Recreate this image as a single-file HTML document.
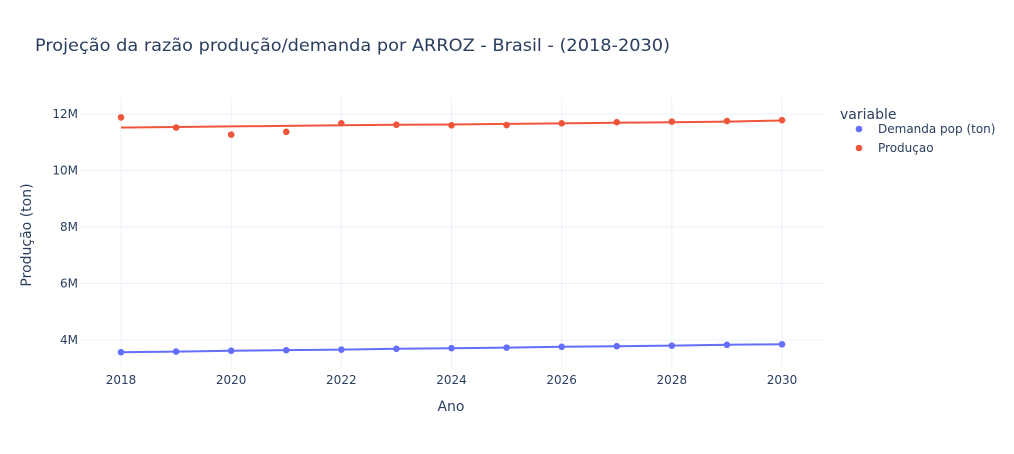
<!DOCTYPE html>
<html><head><meta charset="utf-8"><style>
body{margin:0;background:#fff;font-family:"DejaVu Sans",sans-serif}
svg text{font-family:"DejaVu Sans","Liberation Sans",sans-serif}
</style></head><body>
<svg id="c" width="1014" height="450" xmlns="http://www.w3.org/2000/svg"></svg>
<script>
const years=[2018,2019,2020,2021,2022,2023,2024,2025,2026,2027,2028,2029,2030];
const producao=[11.88,11.52,11.27,11.37,11.67,11.62,11.60,11.61,11.67,11.71,11.73,11.75,11.78];
const producaoTrend=[11.52,11.54,11.56,11.58,11.60,11.62,11.63,11.65,11.67,11.69,11.71,11.73,11.77];
const demanda=[3.57,3.59,3.62,3.64,3.66,3.69,3.71,3.73,3.76,3.78,3.80,3.83,3.85];
const demandaTrend=[3.57,3.59,3.62,3.64,3.66,3.69,3.71,3.73,3.76,3.78,3.80,3.83,3.85];
const xTicks=[2018,2020,2022,2024,2026,2028,2030];
const yTicks=[4,6,8,10,12];
const yLabels=["4M","6M","8M","10M","12M"];

const NS="http://www.w3.org/2000/svg",svg=document.getElementById('c');
const L=80,R=823,T=98,B=367;
const xs=v=>121+(v-2018)*(782-121)/12;
const ys=v=>340-(v-4)*(340-114)/8;
function el(t,a,p){const e=document.createElementNS(NS,t);for(const k in a)e.setAttribute(k,a[k]);(p||svg).appendChild(e);return e;}
function tx(s,a,p){const e=el('text',a,p);e.textContent=s;return e;}

let g=el('g',{});
xTicks.forEach(v=>el('line',{x1:xs(v),x2:xs(v),y1:T,y2:B,stroke:'#ebf0f8','stroke-width':1},g));
yTicks.forEach(v=>el('line',{x1:L,x2:R,y1:ys(v),y2:ys(v),stroke:'#ebf0f8','stroke-width':1},g));

xTicks.forEach(v=>{const t=tx(String(v),{x:xs(v),y:384,'text-anchor':'middle','font-size':12,fill:'#2a3f5f'});
});
yTicks.forEach((v,i)=>{const t=tx(yLabels[i],{x:78,y:ys(v)+4,'text-anchor':'end','font-size':12,fill:'#2a3f5f'});
});

function series(vals,trend,color,name){
  const sg=el('g',{});
  const ln=el('polyline',{points:trend.map((v,i)=>xs(years[i])+','+ys(v)).join(' '),fill:'none',stroke:color,'stroke-width':2},sg);
  
  vals.forEach((v,i)=>{const c=el('circle',{cx:xs(years[i]),cy:ys(v),r:3.3,fill:color},sg);
    });
}
series(producao,producaoTrend,'#ef553b','producao');
series(demanda,demandaTrend,'#636efa','demanda');

let t=tx('Projeção da razão produção/demanda por ARROZ - Brasil - (2018-2030)',{x:35,y:51,'font-size':17,fill:'#2a3f5f',textLength:635,lengthAdjust:'spacingAndGlyphs'});

t=tx('Ano',{x:451,y:411,'text-anchor':'middle','font-size':14,fill:'#2a3f5f'});

t=tx('Produção (ton)',{x:0,y:0,'text-anchor':'middle','font-size':14,fill:'#2a3f5f',transform:'translate(31,235) rotate(-90)'});


const lg=el('g',{});
t=tx('variable',{x:840,y:119,'font-size':14,fill:'#2a3f5f'},lg);

[['Demanda pop (ton)','#636efa',133],['Produçao','#ef553b',152]].forEach(([n,c,y])=>{
  const e=el('g',{},lg);
  el('circle',{cx:859,cy:y-4,r:3.3,fill:c},e);
  const lt=tx(n,{x:878,y:y,'font-size':12,fill:'#2a3f5f'},e);
  
  
});
</script>
</body></html>
